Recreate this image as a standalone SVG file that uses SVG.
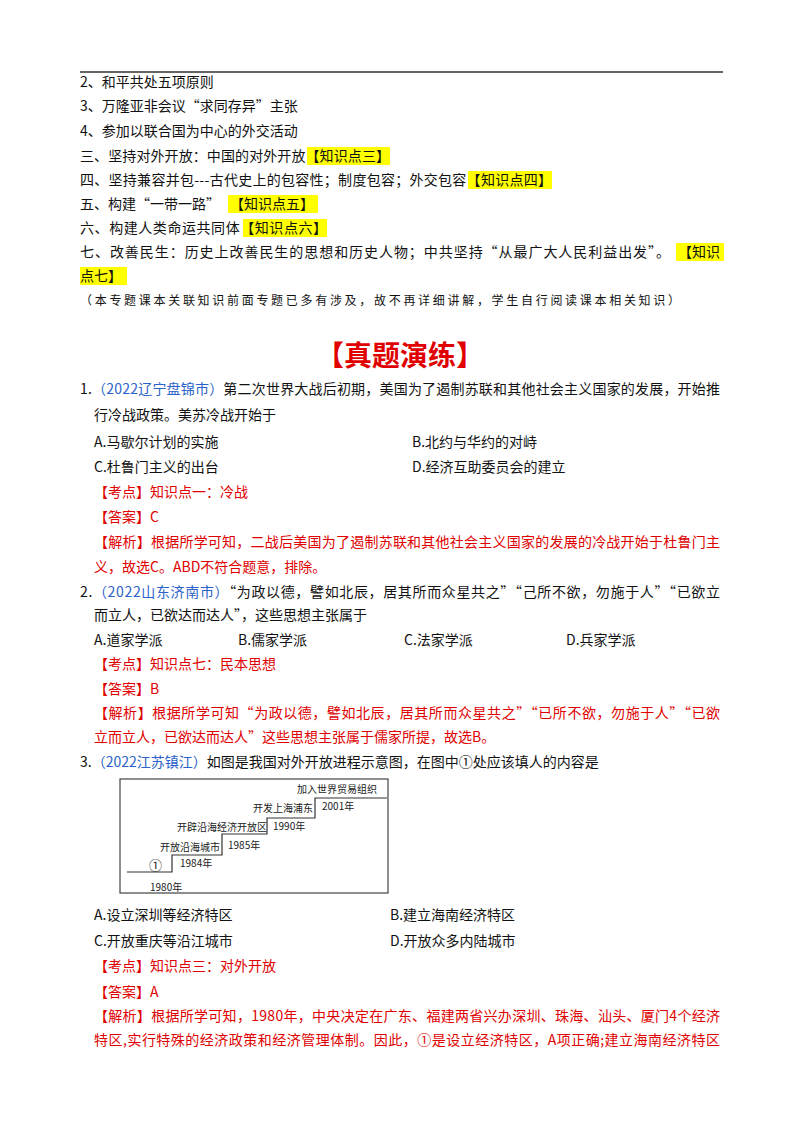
<svg xmlns="http://www.w3.org/2000/svg" width="800" height="1132" viewBox="0 0 800 1132">
<style>
text{font-family:"Noto Sans CJK SC","Liberation Serif",sans-serif;font-size:14px;fill:#111}
.r{fill:#e00000}
.b{fill:#2a62c9}
.hl{fill:#ffff00}
.f{font-size:10px;fill:#222}
.st{fill:none;stroke:#333;stroke-width:1.2}
</style>
<rect width="800" height="1132" fill="#fff"/>
<line x1="80" y1="72" x2="723" y2="72" stroke="#333" stroke-width="1.5"/>
<g id="highlights">
<rect class="hl" x="307" y="147" width="83" height="18"/>
<rect class="hl" x="468" y="171" width="84" height="18"/>
<rect class="hl" x="228" y="195" width="90" height="18"/>
<rect class="hl" x="243" y="219" width="84" height="18"/>
<rect class="hl" x="676" y="243" width="48" height="18"/>
<rect class="hl" x="80" y="267" width="47" height="18"/>
</g>
<g id="outline">
<text x="80" y="87">2、和平共处五项原则</text>
<text x="80" y="111">3、万隆亚非会议“求同存异”主张</text>
<text x="80" y="136">4、参加以联合国为中心的外交活动</text>
<text x="80" y="161" textLength="310">三、坚持对外开放：中国的对外开放【知识点三】</text>
<text x="80" y="185" textLength="472">四、坚持兼容并包---古代史上的包容性；制度包容；外交包容【知识点四】</text>
<text x="80" y="209">五、构建“一带一路”</text><text x="230" y="209">【知识点五】</text>
<text x="80" y="233" textLength="247">六、构建人类命运共同体【知识点六】</text>
<text x="80" y="257" textLength="590">七、改善民生：历史上改善民生的思想和历史人物；中共坚持“从最广大人民利益出发”。</text><text x="678" y="257">【知识</text>
<text x="80" y="281">点七】</text>
<text x="80" y="305" style="font-size:12px" textLength="600">（本专题课本关联知识前面专题已多有涉及，故不再详细讲解，学生自行阅读课本相关知识）</text>
</g>
<text x="400" y="366" text-anchor="middle" class="r" style="font-size:28px;font-weight:bold">【真题演练】</text>
<g id="q1">
<text x="80" y="394" textLength="640">1.<tspan class="b">（2022辽宁盘锦市）</tspan>第二次世界大战后初期，美国为了遏制苏联和其他社会主义国家的发展，开始推</text>
<text x="94" y="420">行冷战政策。美苏冷战开始于</text>
<text x="94" y="447">A.马歇尔计划的实施</text><text x="412" y="447">B.北约与华约的对峙</text>
<text x="94" y="472">C.杜鲁门主义的出台</text><text x="412" y="472">D.经济互助委员会的建立</text>
<text x="94" y="497" class="r">【考点】知识点一：冷战</text>
<text x="94" y="522" class="r">【答案】C</text>
<text x="94" y="547" class="r" textLength="626">【解析】根据所学可知，二战后美国为了遏制苏联和其他社会主义国家的发展的冷战开始于杜鲁门主</text>
<text x="94" y="572" class="r">义，故选C。ABD不符合题意，排除。</text>
</g>
<g id="q2">
<text x="80" y="597" textLength="640">2.<tspan class="b">（2022山东济南市）</tspan>“为政以德，譬如北辰，居其所而众星共之”“己所不欲，勿施于人”“已欲立</text>
<text x="94" y="620">而立人，已欲达而达人”，这些思想主张属于</text>
<text x="94" y="645">A.道家学派</text><text x="238" y="645">B.儒家学派</text><text x="404" y="645">C.法家学派</text><text x="566" y="645">D.兵家学派</text>
<text x="94" y="669" class="r">【考点】知识点七：民本思想</text>
<text x="94" y="694" class="r">【答案】B</text>
<text x="94" y="718" class="r" textLength="626">【解析】根据所学可知“为政以德，譬如北辰，居其所而众星共之”“已所不欲，勿施于人”“已欲</text>
<text x="94" y="742" class="r">立而立人，已欲达而达人”这些思想主张属于儒家所提，故选B。</text>
</g>
<g id="q3">
<text x="80" y="767">3.<tspan class="b">（2022江苏镇江）</tspan>如图是我国对外开放进程示意图，在图中①处应该填人的内容是</text>
<g id="figure">
<rect x="120" y="779" width="268" height="114" fill="none" stroke="#444" stroke-width="1.2"/>
<polyline class="st" points="127,872 172,872 172,855 222,855 222,834 267,834 267,818 315,818 315,798 387,798"/>
<text class="f" x="149" y="870" style="font-size:13px">①</text>
<text class="f" x="150" y="891">1980年</text>
<text class="f" x="160" y="851">开放沿海城市</text>
<text class="f" x="180" y="867">1984年</text>
<text class="f" x="177" y="831">开辟沿海经济开放区</text>
<text class="f" x="228" y="849">1985年</text>
<text class="f" x="253" y="812">开发上海浦东</text>
<text class="f" x="273" y="830">1990年</text>
<text class="f" x="297" y="793">加入世界贸易组织</text>
<text class="f" x="322" y="810">2001年</text>
</g>
<text x="94" y="920">A.设立深圳等经济特区</text><text x="390" y="920">B.建立海南经济特区</text>
<text x="94" y="946">C.开放重庆等沿江城市</text><text x="390" y="946">D.开放众多内陆城市</text>
<text x="94" y="971" class="r">【考点】知识点三：对外开放</text>
<text x="94" y="997" class="r">【答案】A</text>
<text x="94" y="1021" class="r" textLength="626">【解析】根据所学可知，1980年，中央决定在广东、福建两省兴办深圳、珠海、汕头、厦门4个经济</text>
<text x="94" y="1045" class="r" textLength="626">特区,实行特殊的经济政策和经济管理体制。因此，①是设立经济特区，A项正确;建立海南经济特区</text>
</g>
</svg>
